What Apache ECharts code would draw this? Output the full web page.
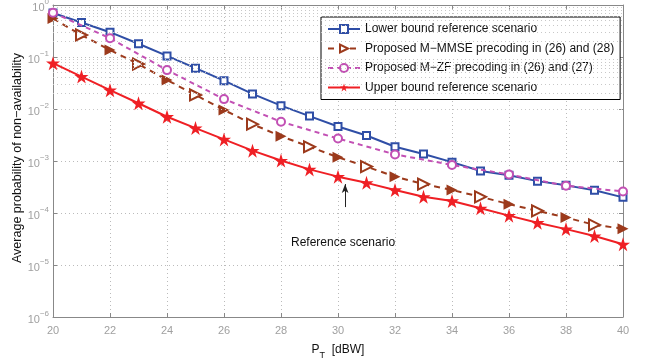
<!DOCTYPE html>
<html><head><meta charset="utf-8">
<script src="https://cdn.jsdelivr.net/npm/echarts@6/dist/echarts.min.js"></script>
<style>html,body{margin:0;padding:0;background:#fff}#c{width:654px;height:360px}</style>
</head><body><div id="c"></div>
<script>
const xAll = [20,21,22,23,24,25,26,27,28,29,30,31,32,33,34,35,36,37,38,39,40];
const lowerBound = [0.70,0.46,0.30,0.18,0.105,0.061,0.035,0.0195,0.0116,0.0073,0.0046,0.0031,0.00188,0.00136,0.00095,0.00064,0.00053,0.00041,0.00034,0.000274,0.0002];
const mmse = [0.55,0.265,0.136,0.073,0.036,0.0186,0.0096,0.0051,0.003,0.00188,0.00118,0.00078,0.0005,0.00036,0.000277,0.000205,0.000148,0.00011,0.000082,0.000059,0.00005];
const xEven = [20,22,24,26,28,30,32,34,36,38,40];
const mzf = [0.71,0.23,0.056,0.0155,0.0057,0.0027,0.00134,0.00084,0.00055,0.000335,0.00026];
const upperBound = [0.076,0.042,0.023,0.0129,0.0071,0.0043,0.0026,0.00158,0.00102,0.00069,0.0005,0.00038,0.000277,0.000205,0.00017,0.000123,0.000089,0.000065,0.000049,0.000036,0.000025];
const names = ['Lower bound reference scenario','Proposed M\u2212MMSE precoding in (26) and (28)','Proposed M\u2212ZF precoding in (26) and (27)','Upper bound reference scenario'];
const annotationText = 'Reference scenario';
const yTitle = 'Average probability of non\u2212availability';

const star = 'path://M0,-1 L0.2245,-0.309 L0.951,-0.309 L0.363,0.118 L0.588,0.809 L0,0.382 L-0.588,0.809 L-0.363,0.118 L-0.951,-0.309 L-0.2245,-0.309 Z';
const pair = (xs, ys) => xs.map((x,i)=>[x, ys[i]]);
const minorLines = [];
for (let e=-6;e<0;e++) for (let k=2;k<=9;k++) minorLines.push({yAxis: k*Math.pow(10,e)});

const chart = echarts.init(document.getElementById('c'));
const tickColor = '#a0a0a0';
const axisCol = '#888';
chart.setOption({
  animation:false,
  textStyle:{fontFamily:'Liberation Sans, Arial, sans-serif'},
  grid:{left:53,top:5,right:31,bottom:43,containLabel:false,outerBoundsMode:'none'},
  legend:{
    orient:'vertical', left:321, top:17, itemWidth:32, itemHeight:10, itemGap:7.5,
    padding:[6,6,6,6],
    borderColor:'#000', borderWidth:1, backgroundColor:'#fff',
    textStyle:{fontSize:12,color:'#111'},
    data:names
  },
  xAxis:[{
    type:'value', min:20, max:40, interval:2,
    name:'{p|P}{t|T}{p|  [dBW]}', nameLocation:'middle', nameGap:22,
    nameTextStyle:{rich:{p:{fontSize:12,color:'#111'},t:{fontSize:9,color:'#111',padding:[12,0,0,0]}}},
    axisLine:{lineStyle:{color:axisCol}},
    axisTick:{inside:true,length:4,lineStyle:{color:axisCol}},
    axisLabel:{color:tickColor,fontSize:11,margin:8},
    splitLine:{show:true,lineStyle:{color:'#bbb',type:[1,3]}}
  },{
    type:'value', min:20, max:40, interval:2, position:'top',
    axisLine:{show:true,lineStyle:{color:axisCol}},
    axisTick:{show:true,inside:true,length:4,lineStyle:{color:axisCol}},
    axisLabel:{show:false}, splitLine:{show:false}
  }],
  yAxis:[{
    type:'log', logBase:10, min:1e-6, max:1,
    axisLine:{show:true,lineStyle:{color:axisCol}},
    axisTick:{show:true,inside:true,length:4,lineStyle:{color:axisCol}},
    axisLabel:{
      margin:4,
      formatter:function(v){const e=Math.round(Math.log10(v));return '{b|10}{s|'+(e<0?'\u2212'+(-e):e)+'}';},
      rich:{b:{fontSize:11,color:tickColor,padding:[6,0,0,0]},s:{fontSize:8,color:tickColor,padding:[0,0,6,0]}}
    },
    splitLine:{show:true,lineStyle:{color:'#bbb',type:[1,3]}}
  },{
    type:'log', logBase:10, min:1e-6, max:1, position:'right',
    axisLine:{show:true,lineStyle:{color:axisCol}},
    axisTick:{show:true,inside:true,length:4,lineStyle:{color:axisCol}},
    axisLabel:{show:false}, splitLine:{show:false}
  }],
  series:[
    {type:'line', name:'_grid', data:[], silent:true,
     markLine:{silent:true,symbol:['none','none'],label:{show:false},
       lineStyle:{color:'#c8c8c8',type:[1,3],width:1}, data:minorLines}},
    {type:'line', name:names[0], data:pair(xAll,lowerBound), symbol:'emptyRect', symbolSize:7,
     lineStyle:{color:'#2f4ea6',width:2}, itemStyle:{color:'#2f4ea6',borderWidth:1.3}, z:3},
    {type:'line', name:names[1],
     data:pair(xAll,mmse).map((p,i)=>({value:p, symbol: i%2===0 ? 'triangle':'emptyTriangle'})),
     symbol:'emptyTriangle', symbolSize:11, symbolRotate:-90,
     lineStyle:{color:'#9c3a1c',width:2,type:[6,5]}, itemStyle:{color:'#9c3a1c',borderWidth:1.3}, z:4},
    {type:'line', name:names[2], data:pair(xEven,mzf), symbol:'emptyCircle', symbolSize:8,
     lineStyle:{color:'#c250b4',width:2,type:[5,4]}, itemStyle:{color:'#c250b4',borderWidth:1.5}, z:5},
    {type:'line', name:names[3], data:pair(xAll,upperBound), symbol:star, symbolSize:14,
     lineStyle:{color:'#ef1f24',width:2}, itemStyle:{color:'#ef1f24'}, z:6,
     markLine:{silent:true, symbol:['none','arrow'], symbolSize:[5,9], label:{show:false},
       lineStyle:{color:'#222',width:1,type:'solid'},
       data:[[{coord:[30.25,1.3e-4]},{coord:[30.25,3.6e-4]}]]}}
  ],
  graphic:[
    {type:'text', left:291, top:237, style:{text:annotationText, fontSize:12, fill:'#111', font:'12px Liberation Sans, Arial, sans-serif'}},
    {type:'text', x:18, y:158, rotation:Math.PI/2, style:{text:yTitle, align:'center', verticalAlign:'middle', fill:'#111', font:'12.5px Liberation Sans, Arial, sans-serif'}}
  ]
});
</script></body></html>
